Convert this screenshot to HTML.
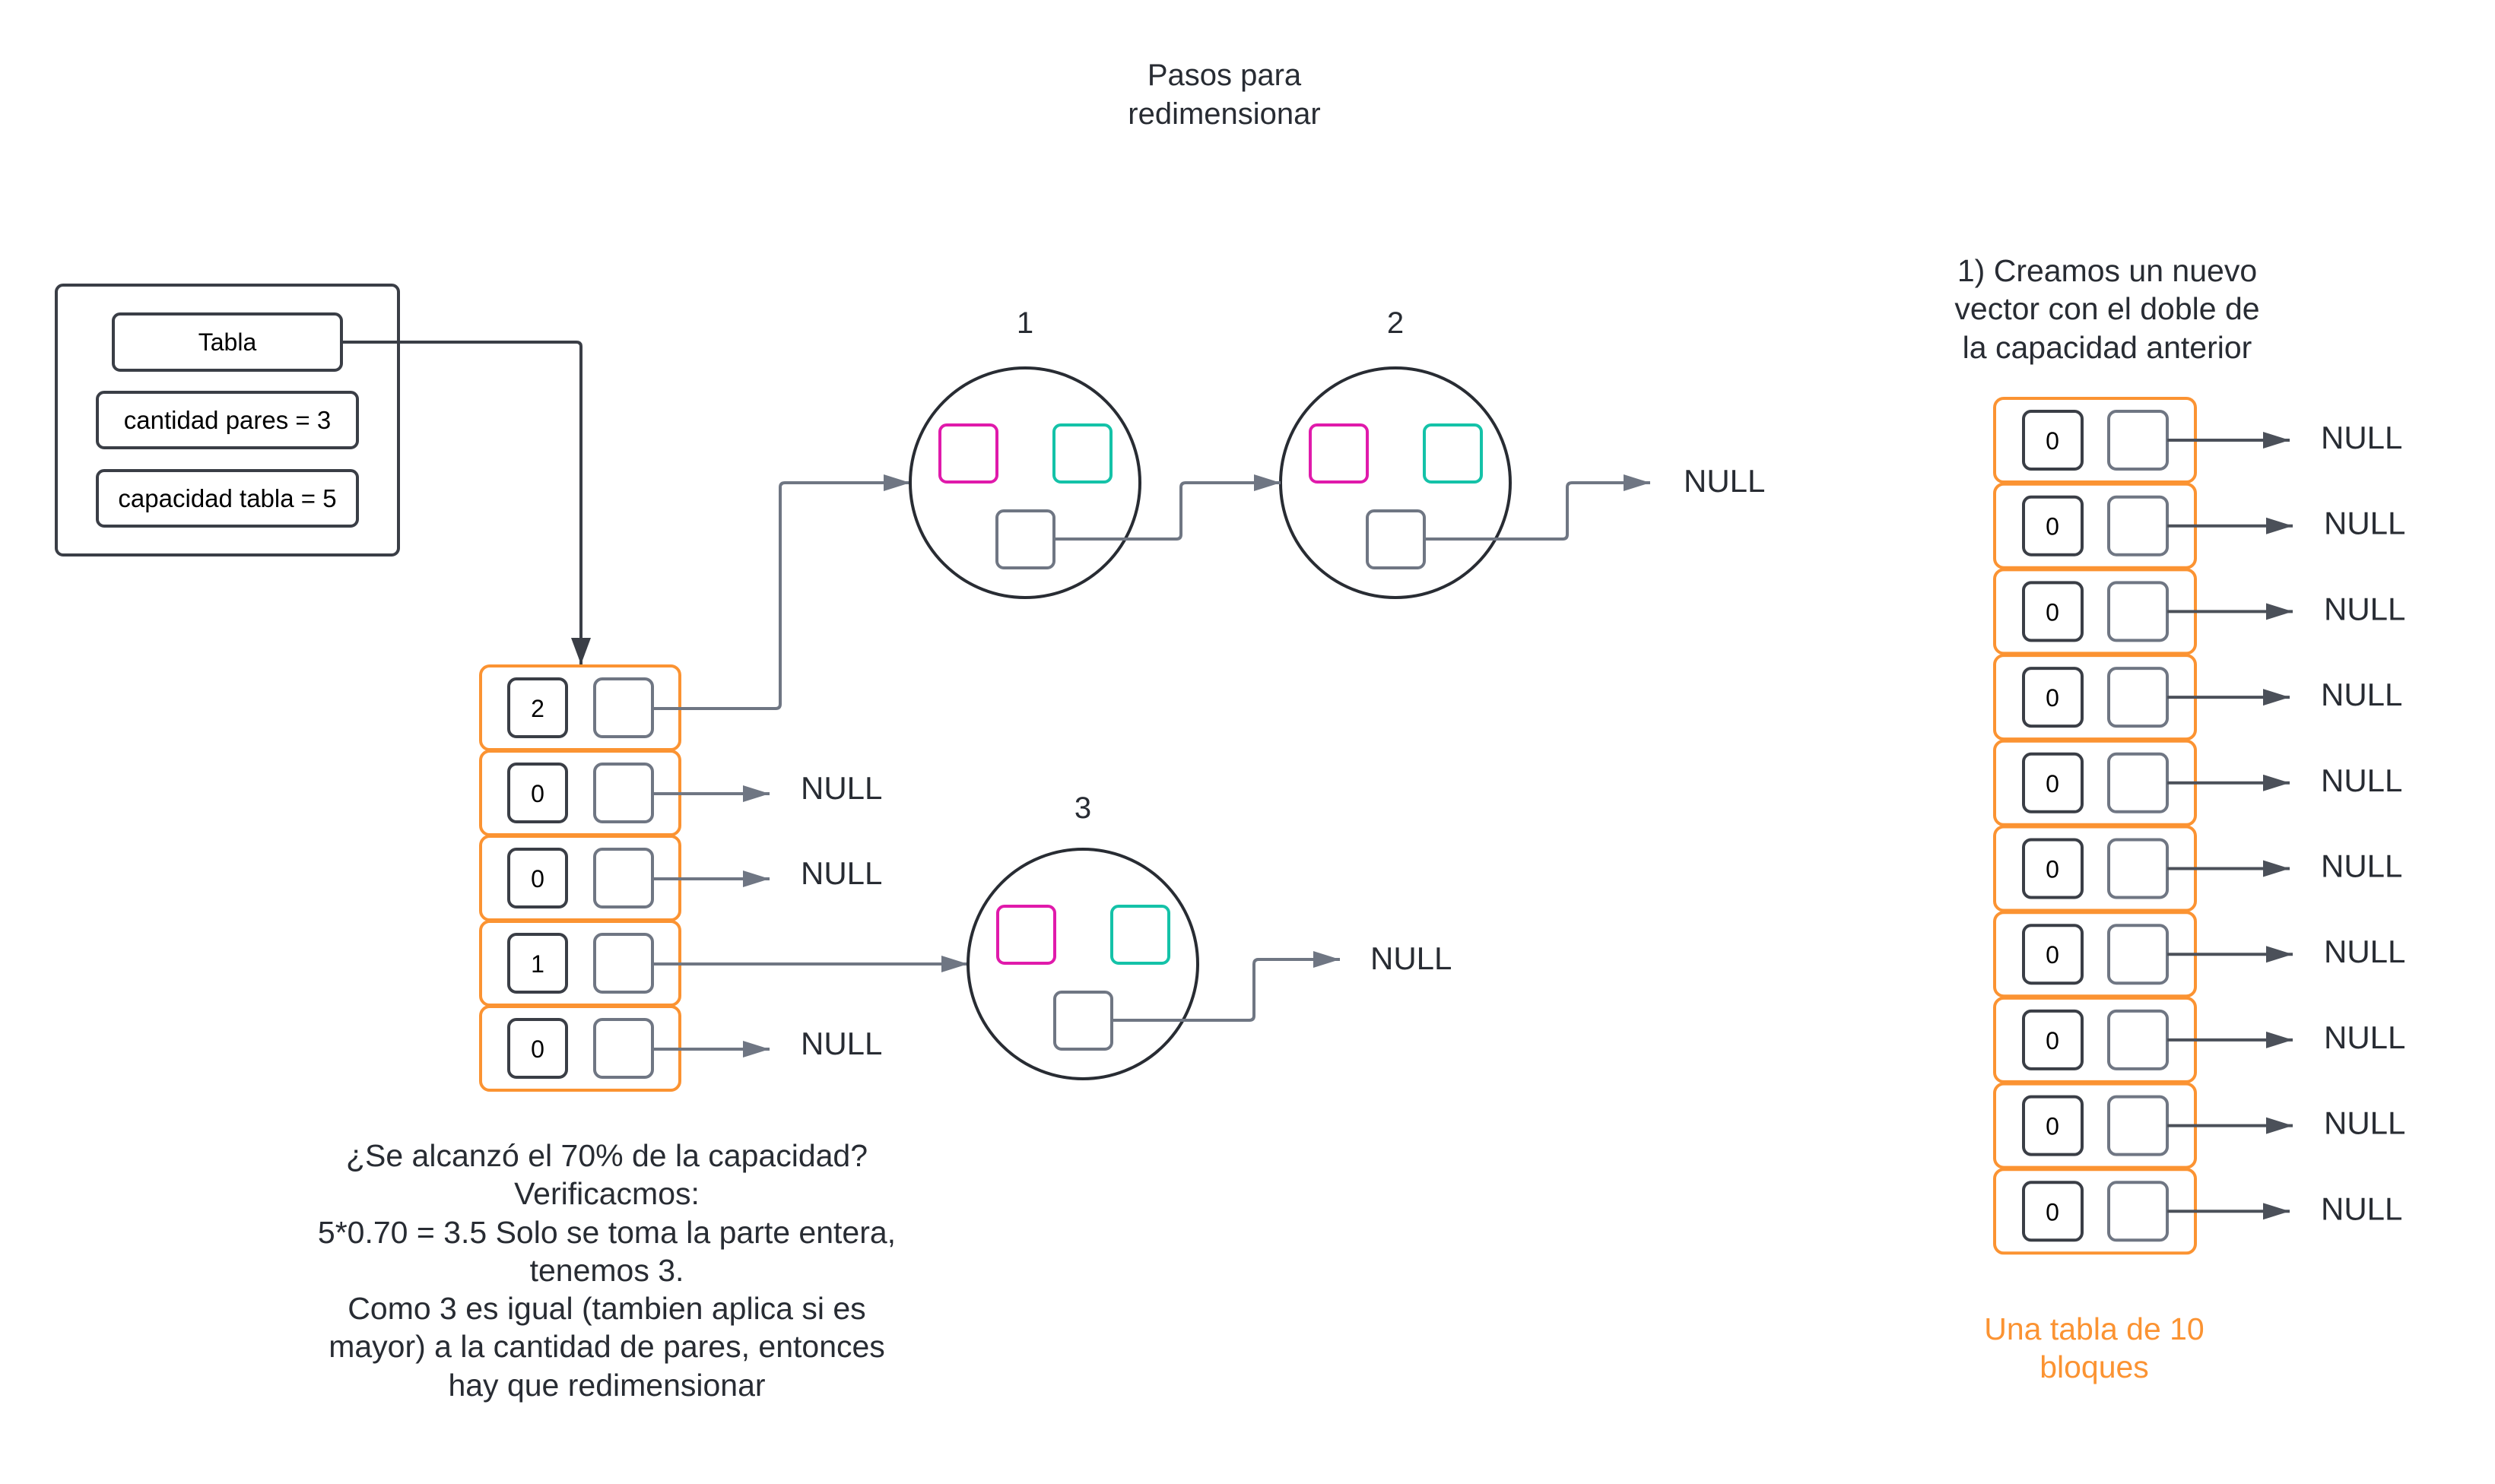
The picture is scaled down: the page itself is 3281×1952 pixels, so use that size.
<!DOCTYPE html>
<html><head><meta charset="utf-8"><style>
html,body{margin:0;padding:0;background:#fff;}
svg{display:block;}
text{font-family:"Liberation Sans",Arial,sans-serif;fill:#282c33;}
</style></head><body>
<svg width="3281" height="1952" viewBox="0 0 3281 1952" xmlns="http://www.w3.org/2000/svg">
<defs>
<marker id="ag" markerWidth="36" markerHeight="24" refX="35" refY="11" markerUnits="userSpaceOnUse" orient="auto"><path d="M0,0 L35,11 L0,22 z" fill="#6f7683"/></marker>
<marker id="ad" markerWidth="36" markerHeight="24" refX="35" refY="11" markerUnits="userSpaceOnUse" orient="auto"><path d="M0,0 L35,11 L0,22 z" fill="#4b5059"/></marker>
<marker id="ak" markerWidth="36" markerHeight="28" refX="35" refY="13" markerUnits="userSpaceOnUse" orient="auto"><path d="M0,0 L35,13 L0,26 z" fill="#3a3e46"/></marker>
</defs>

<text x="1610" y="112" font-size="40" text-anchor="middle">Pasos para</text>
<text x="1610" y="163" font-size="40" text-anchor="middle">redimensionar</text>

<rect x="74" y="375" width="450" height="355" rx="9" fill="none" stroke="#3a3e46" stroke-width="4"/>
<rect x="149" y="413" width="300" height="74" rx="9" fill="none" stroke="#3a3e46" stroke-width="4"/>
<text x="299" y="461" font-size="32" text-anchor="middle" style="fill:#000">Tabla</text>
<rect x="128" y="516" width="342" height="73" rx="9" fill="none" stroke="#3a3e46" stroke-width="4"/>
<text x="299" y="564" font-size="33" text-anchor="middle" style="fill:#000">cantidad pares = 3</text>
<rect x="128" y="619" width="342" height="73" rx="9" fill="none" stroke="#3a3e46" stroke-width="4"/>
<text x="299" y="667" font-size="33" text-anchor="middle" style="fill:#000">capacidad tabla = 5</text>
<path d="M449,450 H758 Q764,450 764,456 V874" fill="none" stroke="#3a3e46" stroke-width="4" marker-end="url(#ak)"/>

<g fill="none" stroke="#fb9332" stroke-width="4">
<rect x="632" y="876" width="262" height="110" rx="12"/>
<rect x="632" y="988" width="262" height="110" rx="12"/>
<rect x="632" y="1100" width="262" height="110" rx="12"/>
<rect x="632" y="1212" width="262" height="110" rx="12"/>
<rect x="632" y="1324" width="262" height="110" rx="12"/>
</g>
<g fill="none" stroke-width="4">
<rect x="669" y="893" width="76" height="76" rx="10" stroke="#3a3e46"/><rect x="782" y="893" width="76" height="76" rx="10" stroke="#6f7683"/>
<rect x="669" y="1005" width="76" height="76" rx="10" stroke="#3a3e46"/><rect x="782" y="1005" width="76" height="76" rx="10" stroke="#6f7683"/>
<rect x="669" y="1117" width="76" height="76" rx="10" stroke="#3a3e46"/><rect x="782" y="1117" width="76" height="76" rx="10" stroke="#6f7683"/>
<rect x="669" y="1229" width="76" height="76" rx="10" stroke="#3a3e46"/><rect x="782" y="1229" width="76" height="76" rx="10" stroke="#6f7683"/>
<rect x="669" y="1341" width="76" height="76" rx="10" stroke="#3a3e46"/><rect x="782" y="1341" width="76" height="76" rx="10" stroke="#6f7683"/>
</g>
<g font-size="32" text-anchor="middle">
<text x="707" y="943" style="fill:#000">2</text>
<text x="707" y="1055" style="fill:#000">0</text>
<text x="707" y="1167" style="fill:#000">0</text>
<text x="707" y="1279" style="fill:#000">1</text>
<text x="707" y="1391" style="fill:#000">0</text>
</g>
<g fill="none" stroke="#6f7683" stroke-width="4">
<path d="M858,932 H1020 Q1026,932 1026,926 V641 Q1026,635 1032,635 H1197" marker-end="url(#ag)"/>
<path d="M858,1044 H1012" marker-end="url(#ag)"/>
<path d="M858,1156 H1012" marker-end="url(#ag)"/>
<path d="M858,1268 H1273" marker-end="url(#ag)"/>
<path d="M858,1380 H1012" marker-end="url(#ag)"/>
</g>
<g font-size="42">
<text x="1053" y="1051">NULL</text>
<text x="1053" y="1163">NULL</text>
<text x="1053" y="1387">NULL</text>
</g>

<g fill="none" stroke-width="4">
<circle cx="1348" cy="635" r="151" stroke="#282c33"/>
<rect x="1236" y="559" width="75" height="75" rx="9" stroke="#e01aab"/>
<rect x="1386" y="559" width="75" height="75" rx="9" stroke="#14c2a8"/>
<rect x="1311" y="672" width="75" height="75" rx="9" stroke="#6f7683"/>
<circle cx="1835" cy="635" r="151" stroke="#282c33"/>
<rect x="1723" y="559" width="75" height="75" rx="9" stroke="#e01aab"/>
<rect x="1873" y="559" width="75" height="75" rx="9" stroke="#14c2a8"/>
<rect x="1798" y="672" width="75" height="75" rx="9" stroke="#6f7683"/>
<circle cx="1424" cy="1268" r="151" stroke="#282c33"/>
<rect x="1312" y="1192" width="75" height="75" rx="9" stroke="#e01aab"/>
<rect x="1462" y="1192" width="75" height="75" rx="9" stroke="#14c2a8"/>
<rect x="1387" y="1305" width="75" height="75" rx="9" stroke="#6f7683"/>
</g>
<g fill="none" stroke="#6f7683" stroke-width="4">
<path d="M1386,709 H1547 Q1553,709 1553,703 V641 Q1553,635 1559,635 H1684" marker-end="url(#ag)"/>
<path d="M1873,709 H2055 Q2061,709 2061,703 V641 Q2061,635 2067,635 H2170" marker-end="url(#ag)"/>
<path d="M1462,1342 H1643 Q1649,1342 1649,1336 V1268 Q1649,1262 1655,1262 H1762" marker-end="url(#ag)"/>
</g>
<g font-size="40" text-anchor="middle">
<text x="1348" y="438">1</text>
<text x="1835" y="438">2</text>
<text x="1424" y="1076">3</text>
</g>
<g font-size="42">
<text x="2214" y="647">NULL</text>
<text x="1802" y="1275">NULL</text>
</g>

<g font-size="41" text-anchor="middle">
<text x="798" y="1534">¿Se alcanzó el 70% de la capacidad?</text>
<text x="798" y="1584">Verificacmos:</text>
<text x="798" y="1635">5*0.70 = 3.5 Solo se toma la parte entera,</text>
<text x="798" y="1685">tenemos 3.</text>
<text x="798" y="1735">Como 3 es igual (tambien aplica si es</text>
<text x="798" y="1785">mayor) a la cantidad de pares, entonces</text>
<text x="798" y="1836">hay que redimensionar</text>
</g>

<g font-size="41" text-anchor="middle">
<text x="2771" y="370">1) Creamos un nuevo</text>
<text x="2771" y="420">vector con el doble de</text>
<text x="2771" y="471">la capacidad anterior</text>
</g>

<g>
<g transform="translate(0,0)">
<rect x="2623" y="524" width="264" height="110" rx="12" fill="none" stroke="#fb9332" stroke-width="4"/>
<rect x="2661" y="541" width="77" height="76" rx="10" fill="none" stroke="#3a3e46" stroke-width="4"/>
<rect x="2773" y="541" width="77" height="76" rx="10" fill="none" stroke="#6f7683" stroke-width="4"/>
<text x="2699" y="591" font-size="32" text-anchor="middle" style="fill:#000">0</text>
<path d="M2850,579 H3011" fill="none" stroke="#4b5059" stroke-width="4" marker-end="url(#ad)"/>
<text x="3052" y="590" font-size="42">NULL</text>
</g>
<g transform="translate(0,112.7)">
<rect x="2623" y="524" width="264" height="110" rx="12" fill="none" stroke="#fb9332" stroke-width="4"/>
<rect x="2661" y="541" width="77" height="76" rx="10" fill="none" stroke="#3a3e46" stroke-width="4"/>
<rect x="2773" y="541" width="77" height="76" rx="10" fill="none" stroke="#6f7683" stroke-width="4"/>
<text x="2699" y="591" font-size="32" text-anchor="middle" style="fill:#000">0</text>
<path d="M2850,579 H3015" fill="none" stroke="#4b5059" stroke-width="4" marker-end="url(#ad)"/>
<text x="3056" y="590" font-size="42">NULL</text>
</g>
<g transform="translate(0,225.4)">
<rect x="2623" y="524" width="264" height="110" rx="12" fill="none" stroke="#fb9332" stroke-width="4"/>
<rect x="2661" y="541" width="77" height="76" rx="10" fill="none" stroke="#3a3e46" stroke-width="4"/>
<rect x="2773" y="541" width="77" height="76" rx="10" fill="none" stroke="#6f7683" stroke-width="4"/>
<text x="2699" y="591" font-size="32" text-anchor="middle" style="fill:#000">0</text>
<path d="M2850,579 H3015" fill="none" stroke="#4b5059" stroke-width="4" marker-end="url(#ad)"/>
<text x="3056" y="590" font-size="42">NULL</text>
</g>
<g transform="translate(0,338.1)">
<rect x="2623" y="524" width="264" height="110" rx="12" fill="none" stroke="#fb9332" stroke-width="4"/>
<rect x="2661" y="541" width="77" height="76" rx="10" fill="none" stroke="#3a3e46" stroke-width="4"/>
<rect x="2773" y="541" width="77" height="76" rx="10" fill="none" stroke="#6f7683" stroke-width="4"/>
<text x="2699" y="591" font-size="32" text-anchor="middle" style="fill:#000">0</text>
<path d="M2850,579 H3011" fill="none" stroke="#4b5059" stroke-width="4" marker-end="url(#ad)"/>
<text x="3052" y="590" font-size="42">NULL</text>
</g>
<g transform="translate(0,450.8)">
<rect x="2623" y="524" width="264" height="110" rx="12" fill="none" stroke="#fb9332" stroke-width="4"/>
<rect x="2661" y="541" width="77" height="76" rx="10" fill="none" stroke="#3a3e46" stroke-width="4"/>
<rect x="2773" y="541" width="77" height="76" rx="10" fill="none" stroke="#6f7683" stroke-width="4"/>
<text x="2699" y="591" font-size="32" text-anchor="middle" style="fill:#000">0</text>
<path d="M2850,579 H3011" fill="none" stroke="#4b5059" stroke-width="4" marker-end="url(#ad)"/>
<text x="3052" y="590" font-size="42">NULL</text>
</g>
<g transform="translate(0,563.5)">
<rect x="2623" y="524" width="264" height="110" rx="12" fill="none" stroke="#fb9332" stroke-width="4"/>
<rect x="2661" y="541" width="77" height="76" rx="10" fill="none" stroke="#3a3e46" stroke-width="4"/>
<rect x="2773" y="541" width="77" height="76" rx="10" fill="none" stroke="#6f7683" stroke-width="4"/>
<text x="2699" y="591" font-size="32" text-anchor="middle" style="fill:#000">0</text>
<path d="M2850,579 H3011" fill="none" stroke="#4b5059" stroke-width="4" marker-end="url(#ad)"/>
<text x="3052" y="590" font-size="42">NULL</text>
</g>
<g transform="translate(0,676.2)">
<rect x="2623" y="524" width="264" height="110" rx="12" fill="none" stroke="#fb9332" stroke-width="4"/>
<rect x="2661" y="541" width="77" height="76" rx="10" fill="none" stroke="#3a3e46" stroke-width="4"/>
<rect x="2773" y="541" width="77" height="76" rx="10" fill="none" stroke="#6f7683" stroke-width="4"/>
<text x="2699" y="591" font-size="32" text-anchor="middle" style="fill:#000">0</text>
<path d="M2850,579 H3015" fill="none" stroke="#4b5059" stroke-width="4" marker-end="url(#ad)"/>
<text x="3056" y="590" font-size="42">NULL</text>
</g>
<g transform="translate(0,788.9)">
<rect x="2623" y="524" width="264" height="110" rx="12" fill="none" stroke="#fb9332" stroke-width="4"/>
<rect x="2661" y="541" width="77" height="76" rx="10" fill="none" stroke="#3a3e46" stroke-width="4"/>
<rect x="2773" y="541" width="77" height="76" rx="10" fill="none" stroke="#6f7683" stroke-width="4"/>
<text x="2699" y="591" font-size="32" text-anchor="middle" style="fill:#000">0</text>
<path d="M2850,579 H3015" fill="none" stroke="#4b5059" stroke-width="4" marker-end="url(#ad)"/>
<text x="3056" y="590" font-size="42">NULL</text>
</g>
<g transform="translate(0,901.6)">
<rect x="2623" y="524" width="264" height="110" rx="12" fill="none" stroke="#fb9332" stroke-width="4"/>
<rect x="2661" y="541" width="77" height="76" rx="10" fill="none" stroke="#3a3e46" stroke-width="4"/>
<rect x="2773" y="541" width="77" height="76" rx="10" fill="none" stroke="#6f7683" stroke-width="4"/>
<text x="2699" y="591" font-size="32" text-anchor="middle" style="fill:#000">0</text>
<path d="M2850,579 H3015" fill="none" stroke="#4b5059" stroke-width="4" marker-end="url(#ad)"/>
<text x="3056" y="590" font-size="42">NULL</text>
</g>
<g transform="translate(0,1014.3)">
<rect x="2623" y="524" width="264" height="110" rx="12" fill="none" stroke="#fb9332" stroke-width="4"/>
<rect x="2661" y="541" width="77" height="76" rx="10" fill="none" stroke="#3a3e46" stroke-width="4"/>
<rect x="2773" y="541" width="77" height="76" rx="10" fill="none" stroke="#6f7683" stroke-width="4"/>
<text x="2699" y="591" font-size="32" text-anchor="middle" style="fill:#000">0</text>
<path d="M2850,579 H3011" fill="none" stroke="#4b5059" stroke-width="4" marker-end="url(#ad)"/>
<text x="3052" y="590" font-size="42">NULL</text>
</g>
</g>

<g font-size="41" text-anchor="middle">
<text x="2754" y="1762" style="fill:#fb9332">Una tabla de 10</text>
<text x="2754" y="1812" style="fill:#fb9332">bloques</text>
</g>
</svg>
</body></html>
